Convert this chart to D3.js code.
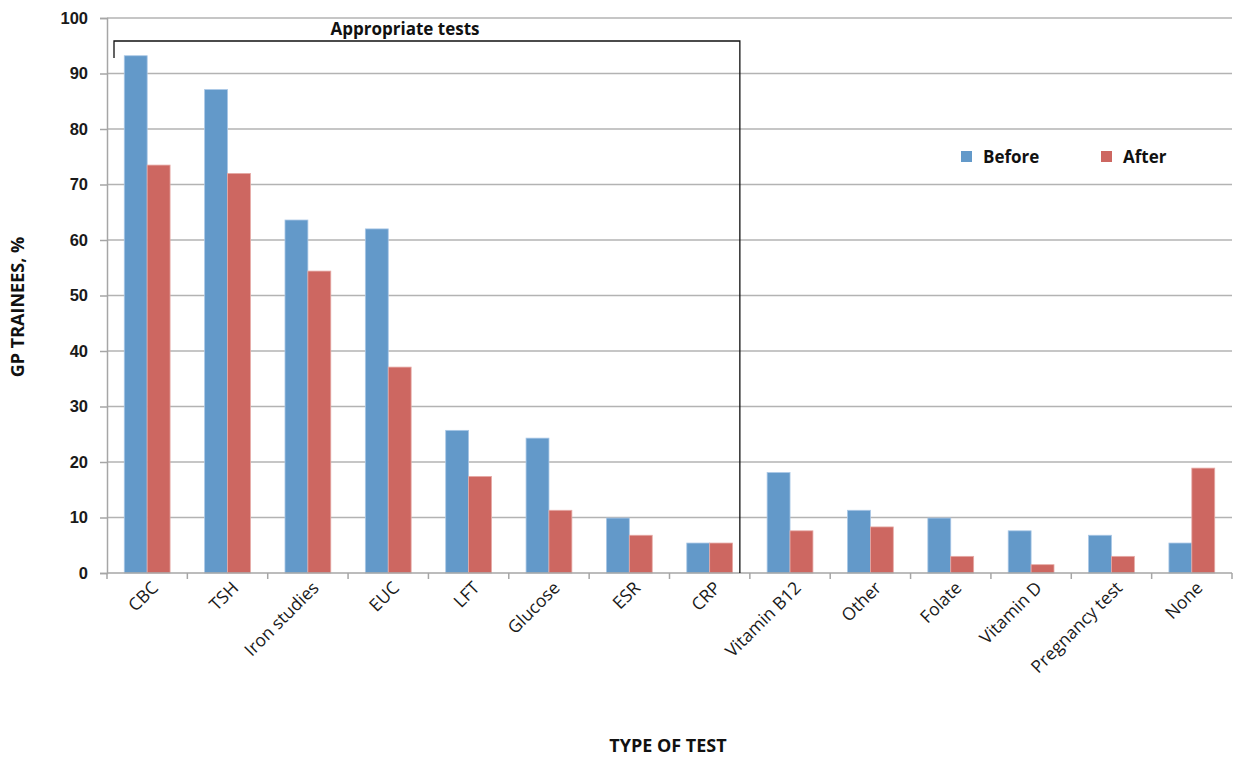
<!DOCTYPE html>
<html>
<head>
<meta charset="utf-8">
<script src="https://cdn.jsdelivr.net/npm/d3@7"></script>
<style>
  html, body { margin: 0; padding: 0; background: #fff; }
  svg { display: block; font-family: "Open Sans", Lato, sans-serif; }
</style>
</head>
<body>
<svg id="chart" width="1237" height="757"></svg>
<script>
// Tests ordered as on the axis
const categories = ["CBC", "TSH", "Iron studies", "EUC", "LFT", "Glucose", "ESR", "CRP",
  "Vitamin B12", "Other", "Folate", "Vitamin D", "Pregnancy test", "None"];
const seriesNames = ["Before", "After"];
const beforeValues = [93.2, 87.1, 63.6, 62.0, 25.7, 24.3, 9.9, 5.4, 18.1, 11.3, 9.9, 7.6, 6.8, 5.4];
const afterValues  = [73.5, 72.0, 54.4, 37.1, 17.4, 11.3, 6.8, 5.4, 7.6, 8.3, 3.0, 1.5, 3.0, 18.9];
const yTicks = [0, 10, 20, 30, 40, 50, 60, 70, 80, 90, 100];
const appropriateCount = 8; // first eight tests are the appropriate ones

const colors = { Before: "#6399c9", After: "#cd6761" };

const margin = { left: 107, right: 5, top: 18, bottom: 184 };
const width = 1237, height = 757;
const svg = d3.select("#chart");

const x0 = d3.scaleBand()
  .domain(categories)
  .range([margin.left, width - margin.right])
  .paddingInner(0.43)
  .paddingOuter(0.215);
const step = x0.step();
const x1 = d3.scaleBand().domain(seriesNames).range([0, x0.bandwidth()]);
const y = d3.scaleLinear().domain([0, 100]).range([height - margin.bottom, margin.top]);

// horizontal gridlines
svg.append("g")
  .selectAll("line")
  .data(yTicks.filter(d => d > 0))
  .join("line")
  .attr("x1", margin.left).attr("x2", width - margin.right)
  .attr("y1", d => y(d)).attr("y2", d => y(d))
  .attr("stroke", "#b3b3b3").attr("stroke-width", 1.5);

// bars
const rows = categories.map((c, i) => ({ cat: c, Before: beforeValues[i], After: afterValues[i] }));
svg.append("g")
  .selectAll("g")
  .data(rows)
  .join("g")
  .attr("transform", d => `translate(${x0(d.cat)},0)`)
  .selectAll("rect")
  .data(d => seriesNames.map(k => ({ key: k, value: d[k] })))
  .join("rect")
  .attr("x", d => x1(d.key))
  .attr("width", x1.bandwidth())
  .attr("y", d => y(d.value))
  .attr("height", d => y(0) - y(d.value))
  .attr("fill", d => colors[d.key])
  .attr("stroke", d => d.key === "Before" ? "#a9c7e6" : "#e6aaa6")
  .attr("stroke-width", 0.8);

// y axis
const yAxis = svg.append("g")
  .attr("transform", `translate(${margin.left},0)`)
  .call(d3.axisLeft(y).tickValues(yTicks).tickSize(7).tickPadding(12));
yAxis.select(".domain").attr("stroke", "#a6a6a6").attr("stroke-width", 1.5);
yAxis.selectAll(".tick line").attr("stroke", "#a6a6a6").attr("stroke-width", 1.5);
yAxis.selectAll(".tick text")
  .attr("fill", "#1a1a1a").style("font-size", "16.5px").style("font-weight", "bold");

// x axis: baseline with ticks between categories
const xg = svg.append("g");
xg.append("line")
  .attr("x1", margin.left).attr("x2", width - margin.right)
  .attr("y1", y(0)).attr("y2", y(0))
  .attr("stroke", "#a6a6a6").attr("stroke-width", 1.5);
xg.selectAll("line.tk")
  .data(d3.range(categories.length + 1))
  .join("line")
  .attr("class", "tk")
  .attr("x1", i => margin.left + i * step).attr("x2", i => margin.left + i * step)
  .attr("y1", y(0)).attr("y2", y(0) + 6)
  .attr("stroke", "#a6a6a6").attr("stroke-width", 1.5);
xg.selectAll("text")
  .data(categories)
  .join("text")
  .attr("transform", d => `translate(${x0(d) + x0.bandwidth() / 2 + 12},${y(0) + 16}) rotate(-45)`)
  .attr("text-anchor", "end")
  .attr("fill", "#1a1a1a")
  .style("font-size", "17.5px")
  .text(d => d);

// bracket over the appropriate tests
const bx0 = margin.left + 7;
const bx1 = margin.left + appropriateCount * step - 10;
const bTop = 41;
svg.append("path")
  .attr("d", `M${bx0},${bTop + 17}V${bTop}H${bx1}V${y(0)}`)
  .attr("fill", "none").attr("stroke", "#111").attr("stroke-width", 1.3);
svg.append("text")
  .attr("x", 405).attr("y", 35)
  .attr("text-anchor", "middle")
  .style("font-size", "17px").style("font-weight", "bold")
  .attr("fill", "#111")
  .text("Appropriate tests");

// legend
const legend = svg.append("g").attr("transform", "translate(961,151)");
seriesNames.forEach((name, i) => {
  const g = legend.append("g").attr("transform", `translate(${i * 140},0)`);
  g.append("rect").attr("width", 11).attr("height", 11).attr("fill", colors[name]);
  g.append("text").attr("x", 22).attr("y", 12)
    .style("font-size", "17px").style("font-weight", "bold").attr("fill", "#111")
    .text(name);
});

// axis titles
svg.append("text")
  .attr("transform", `translate(24,307) rotate(-90)`)
  .attr("text-anchor", "middle")
  .style("font-size", "18px").style("font-weight", "bold").attr("fill", "#111")
  .text("GP TRAINEES, %");
svg.append("text")
  .attr("x", 668).attr("y", 752)
  .attr("text-anchor", "middle")
  .style("font-size", "18px").style("font-weight", "bold").attr("fill", "#111")
  .text("TYPE OF TEST");
</script>
</body>
</html>
